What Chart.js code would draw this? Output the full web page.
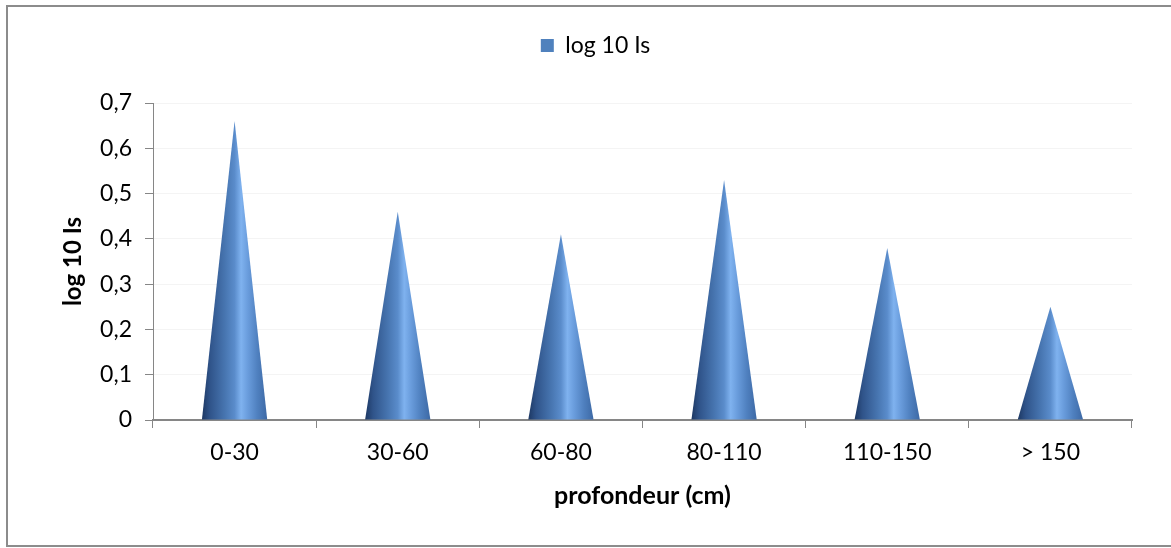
<!DOCTYPE html>
<html>
<head>
<meta charset="utf-8">
<script src="https://cdn.jsdelivr.net/npm/chart.js@4"></script>
<style>
  html, body { margin: 0; padding: 0; background: #fff; overflow: hidden; }
  canvas { display: block; }
</style>
</head>
<body>
<canvas id="c" width="1171" height="548"></canvas>
<script>
// Depth classes and the log10 Is value for each
const categories = ['0-30', '30-60', '60-80', '80-110', '110-150', '> 150'];
const logIs = [0.66, 0.46, 0.41, 0.53, 0.38, 0.25];
const yTickLabels = ['0', '0,1', '0,2', '0,3', '0,4', '0,5', '0,6', '0,7'];
const seriesName = 'log 10 Is';
const xTitle = 'profondeur (cm)';
const yTitle = 'log 10 Is';

const FONT = 'Lato, "Liberation Sans", sans-serif';
const AXIS = '#868686';

// Outer chart frame (left, top and bottom edges; the right edge runs off the canvas)
const chartFrame = {
  id: 'chartFrame',
  beforeDraw(chart) {
    const ctx = chart.ctx;
    ctx.save();
    ctx.strokeStyle = '#8c8c8c';
    ctx.lineWidth = 2;
    ctx.beginPath();
    ctx.moveTo(chart.width + 5, 6);
    ctx.lineTo(7, 6);
    ctx.lineTo(7, 546);
    ctx.lineTo(chart.width + 5, 546);
    ctx.stroke();
    ctx.restore();
  }
};

// Paint each bar as a shaded cone using the bar element's geometry
const coneBars = {
  id: 'coneBars',
  beforeDatasetDraw(chart, args) {
    const ctx = chart.ctx;
    ctx.save();
    args.meta.data.forEach(bar => {
      const { x, y, base, width } = bar.getProps(['x', 'y', 'base', 'width'], true);
      const l = x - width / 2, r = x + width / 2;
      const g = ctx.createLinearGradient(l, 0, r, 0);
      g.addColorStop(0.00, '#1d3863');
      g.addColorStop(0.12, '#2f5389');
      g.addColorStop(0.35, '#4775b0');
      g.addColorStop(0.50, '#5a8ccb');
      g.addColorStop(0.60, '#7fb2ef');
      g.addColorStop(0.70, '#6a9ddd');
      g.addColorStop(0.85, '#4f80bf');
      g.addColorStop(1.00, '#3d69a5');
      ctx.fillStyle = g;
      ctx.beginPath();
      ctx.moveTo(l, base);
      ctx.lineTo(x, y);
      ctx.lineTo(r, base);
      ctx.closePath();
      ctx.fill();
    });
    ctx.restore();
    return false;
  }
};

// Extra space under the legend
const legendGap = {
  id: 'legendGap',
  beforeInit(chart) {
    const fit = chart.legend.fit;
    chart.legend.fit = function () {
      fit.call(this);
      this.height = 79;
    };
  }
};

new Chart(document.getElementById('c'), {
  type: 'bar',
  data: {
    labels: categories,
    datasets: [{
      label: seriesName,
      data: logIs,
      backgroundColor: '#4f81bd',
      borderWidth: 0,
      barPercentage: 1,
      categoryPercentage: 0.4
    }]
  },
  options: {
    responsive: false,
    animation: false,
    devicePixelRatio: 1,
    layout: { padding: { top: 24, left: 59, right: 39, bottom: 0 } },
    plugins: {
      tooltip: { enabled: false },
      legend: {
        position: 'top',
        labels: {
          color: '#000',
          font: { family: FONT, size: 23 },
          boxWidth: 13,
          boxHeight: 13,
          padding: 10
        }
      }
    },
    scales: {
      x: {
        afterFit(s) { s.height = 128; },
        grid: {
          offset: true,
          drawOnChartArea: false,
          drawTicks: true,
          tickLength: 8,
          tickColor: AXIS,
          tickWidth: 1
        },
        border: { color: AXIS, width: 2 },
        ticks: { color: '#000', font: { family: FONT, size: 23 }, padding: 11, maxRotation: 0 },
        title: {
          display: true, text: xTitle, color: '#000',
          font: { family: FONT, size: 25, weight: 'bold' },
          padding: { top: 0, bottom: 37 }
        }
      },
      y: {
        min: 0, max: 0.7,
        afterFit(s) { s.width = 94; },
        afterBuildTicks(s) {
          s.ticks = yTickLabels.map((_, i) => ({ value: i / 10 }));
        },
        grid: {
          color: '#f4f4f4',
          tickLength: 8,
          tickColor: AXIS,
          tickWidth: 1
        },
        border: { color: AXIS, width: 1 },
        ticks: {
          color: '#000',
          font: { family: FONT, size: 23 },
          padding: 13,
          callback: (v, i) => yTickLabels[i]
        },
        title: {
          display: true, text: yTitle, color: '#000',
          font: { family: FONT, size: 24, weight: 'bold' },
          padding: { top: 0, bottom: 0 }
        }
      }
    }
  },
  plugins: [chartFrame, coneBars, legendGap]
});
</script>
</body>
</html>
